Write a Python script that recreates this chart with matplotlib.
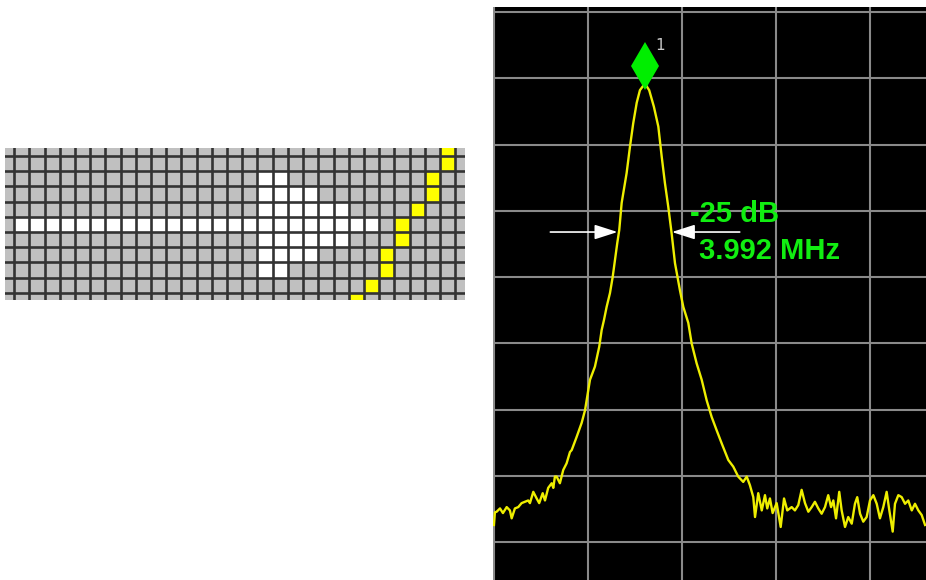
import numpy as np
import matplotlib
matplotlib.use("Agg")
import matplotlib.pyplot as plt
from matplotlib.colors import ListedColormap
from matplotlib.transforms import ScaledTranslation

# ---- left panel: zoomed pixel grid (0 gray, 1 white, 2 yellow) ----
n_rows = 11
n_cols = 31
shaft_row = 5
shaft_cols = (1, 24)
head_rows = [2, 3, 4, 5, 6, 7, 8]
head_first_col = 17
head_last_cols = [18, 20, 22, 24, 22, 20, 18]
yellow_cells = [(29, 0), (29, 1), (28, 2), (28, 3), (27, 4), (26, 5),
                (26, 6), (25, 7), (25, 8), (24, 9), (23, 10)]

# ---- right panel: spectrum trace (MHz, dB) ----
trace_freq = [0.00, 0.07, 0.20, 0.45, 0.67, 0.95, 1.19, 1.32, 1.56, 1.81,
              2.06, 2.31, 2.55, 2.68, 2.93, 3.18, 3.37, 3.63, 3.80, 4.04,
              4.30, 4.42, 4.54, 4.67, 4.91, 5.16, 5.41, 5.66, 5.79, 6.16,
              6.53, 6.78, 7.15, 7.52, 7.84, 8.02, 8.19, 8.39, 8.64, 8.84,
              9.01, 9.18, 9.33, 9.51, 9.88, 10.13, 10.37, 10.63, 10.87, 11.24,
              11.56, 11.91, 12.24, 12.49, 12.73, 12.98, 13.23, 13.48, 13.85, 14.10,
              14.47, 14.72, 15.09, 15.47, 15.84, 16.21, 16.58, 16.96, 17.45, 17.82,
              18.19, 18.56, 18.82, 19.06, 19.31, 19.44, 19.68, 19.94, 20.18, 20.35,
              20.55, 20.75, 21.05, 21.35, 21.60, 21.84, 22.17, 22.41, 22.66, 22.91,
              23.16, 23.41, 23.66, 23.90, 24.15, 24.40, 24.65, 24.89, 25.10, 25.27,
              25.47, 25.71, 25.89, 26.14, 26.38, 26.64, 26.88, 27.05, 27.26, 27.50,
              27.75, 28.00, 28.25, 28.50, 28.74, 28.99, 29.24, 29.44, 29.69, 29.86,
              30.11, 30.36, 30.61, 30.85, 31.11, 31.35, 31.60, 31.85, 32.10]
trace_db = [-77.4, -75.5, -75.4, -74.9, -75.6, -74.7, -75.2, -76.4, -74.9, -74.7,
            -74.1, -73.9, -73.7, -74.1, -72.4, -73.4, -74.1, -72.6, -73.7, -71.8,
            -71.1, -71.8, -70.1, -70.1, -71.1, -69.1, -68.1, -66.4, -66.1, -64.1,
            -62.0, -60.1, -55.5, -53.5, -50.5, -48.0, -46.5, -44.5, -42.4, -40.0,
            -37.4, -34.9, -32.9, -28.8, -24.3, -20.3, -16.8, -13.7, -11.8, -10.8,
            -11.8, -14.3, -17.3, -21.8, -25.8, -29.4, -33.4, -37.9, -42.0, -44.5,
            -46.9, -50.0, -53.0, -55.5, -58.6, -61.1, -63.1, -65.1, -67.6, -68.6,
            -70.1, -70.9, -70.1, -71.4, -73.2, -76.2, -72.6, -75.2, -72.9, -74.9,
            -73.4, -75.6, -74.1, -77.7, -73.4, -75.2, -74.7, -75.2, -74.4, -72.1,
            -74.1, -75.4, -74.7, -73.9, -74.9, -75.7, -74.7, -72.9, -74.7, -73.7,
            -76.4, -72.4, -75.2, -77.7, -76.2, -77.2, -74.2, -73.2, -75.7, -76.9,
            -76.2, -73.7, -72.9, -74.2, -76.4, -74.7, -72.4, -75.2, -78.4, -74.2,
            -72.9, -73.2, -74.2, -73.7, -75.2, -74.2, -75.2, -75.9, -77.4]
marker_freq = 11.24
marker_db = -10.8
bw_level_db = -33.2
bw_left_freq = 9.2
bw_right_freq = 13.25
bw_label = "-25 dB"
bw_value = "3.992 MHz"

fig = plt.figure(figsize=(9.26, 5.8), dpi=100)

# left: pixel grid
cells = np.zeros((n_rows, n_cols), dtype=int)
cells[shaft_row, shaft_cols[0]:shaft_cols[1] + 1] = 1
for r, last in zip(head_rows, head_last_cols):
    cells[r, head_first_col:last + 1] = 1
for c, r in yellow_cells:
    cells[r, c] = 2

ax1 = fig.add_axes([5 / 926, 1 - 300 / 580, 460 / 926, 152 / 580])
cmap = ListedColormap(["#c0c0c0", "#ffffff", "#ffff00"])
ax1.pcolormesh(np.arange(n_cols + 1), np.arange(n_rows + 1), cells,
               cmap=cmap, vmin=-0.5, vmax=2.5)
for k in range(1, n_cols):
    ax1.axvline(k, color="#333333", lw=1.9)
for k in range(1, n_rows):
    ax1.axhline(k, color="#333333", lw=1.9)
ax1.set_xlim(0.39, 30.65)
ax1.set_ylim(10.47, 0.47)
ax1.axis("off")

# right: spectrum display
ax2 = fig.add_axes([493 / 926, 0, 433 / 926, 573 / 580])
ax2.set_facecolor("black")
ax2.set_xlim(-0.07, 32.17)
ax2.set_ylim(-85.7, 0.75)
ax2.set_xticks(np.arange(0, 32, 7))
ax2.set_yticks(np.arange(0, -90, -10))
ax2.grid(True, color="#8a8a8a", lw=1.5)
ax2.tick_params(length=0, labelbottom=False, labelleft=False)
for s in ax2.spines.values():
    s.set_visible(False)

ax2.plot(trace_freq, trace_db, color="#eeee00", lw=1.7)
# marker diamond sits on top of the peak
lift = ScaledTranslation(0, 18 / 100, fig.dpi_scale_trans)
ax2.plot([marker_freq], [marker_db], marker="d", color="#00ee00",
         markersize=24, markeredgewidth=0, transform=ax2.transData + lift)
ax2.text(marker_freq + 1.1, -5.0, "1", color="#c8c8c8", fontsize=11,
         ha="center", va="center")

arrow = dict(arrowstyle="-|>,head_length=1.4,head_width=0.45", color="white",
             lw=1.2, mutation_scale=10, shrinkA=0, shrinkB=0)
ax2.annotate("", xy=(bw_left_freq, bw_level_db), xytext=(4.2, bw_level_db),
             arrowprops=arrow)
ax2.annotate("", xy=(bw_right_freq, bw_level_db), xytext=(18.3, bw_level_db),
             arrowprops=arrow)

ax2.text(14.6, -30.5, bw_label, color="#11ee11", fontsize=21, weight="bold",
         family="Liberation Sans", ha="left", va="center")
ax2.text(15.27, -36.1, bw_value, color="#11ee11", fontsize=21, weight="bold",
         family="Liberation Sans", ha="left", va="center")

fig.savefig("out.png", dpi=100, facecolor="white")
